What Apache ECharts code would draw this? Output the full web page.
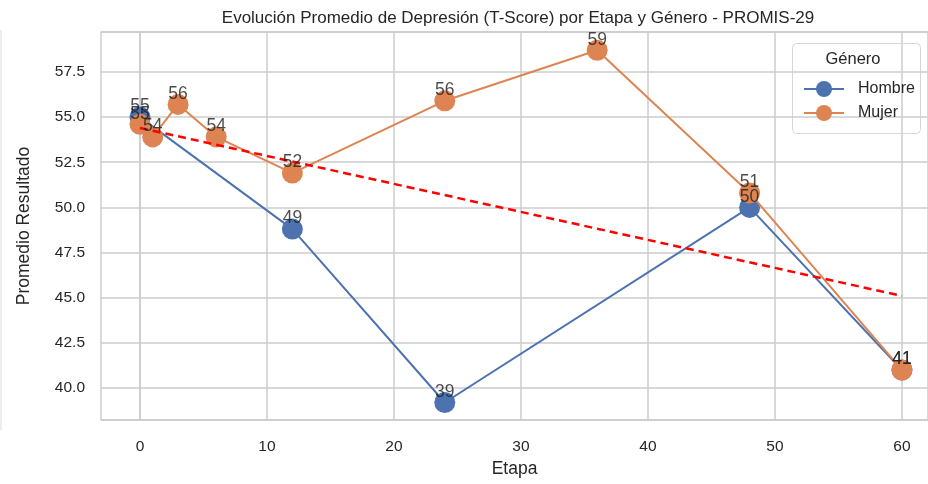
<!DOCTYPE html>
<html>
<head>
<meta charset="utf-8">
<script src="https://cdn.jsdelivr.net/npm/echarts@6/dist/echarts.min.js"></script>
<style>html,body{margin:0;padding:0;background:#fff}#c{width:928px;height:484px}</style>
</head>
<body>
<div id="c"></div>
<script>
const hombreEtapa = [0, 12, 24, 48, 60];
const hombreValor = [55.0, 48.8, 39.2, 50.0, 41.0];
const mujerEtapa = [0, 1, 3, 6, 12, 24, 36, 48, 60];
const mujerValor = [54.6, 53.9, 55.7, 53.9, 51.9, 55.9, 58.7, 50.8, 41.0];
const trendEtapa = [0, 60];
const trendValor = [54.4, 45.1];

const FONT = "'Liberation Sans', Arial, sans-serif";
const TXT = '#262626';
const pair = (xs, ys) => xs.map((x, i) => [x, ys[i]]);

const chart = echarts.init(document.getElementById('c'));
const labelSeries = (name, xs, ys) => ({
  type: 'scatter', name: name + '_lbl', data: pair(xs, ys), symbolSize: 1,
  itemStyle: { color: 'rgba(0,0,0,0)' }, z: 20, silent: true,
  label: { show: true, position: 'top', distance: 1, formatter: p => String(Math.round(p.value[1])),
    color: '#1e1e1e', fontSize: 17.5, fontFamily: FONT }
});
const gridLine = { lineStyle: { color: '#cccccc', width: 1.5 } };
chart.setOption({
  animation: false,
  textStyle: { fontFamily: FONT },
  title: { text: 'Evolución Promedio de Depresión (T-Score) por Etapa y Género - PROMIS-29',
    left: 513, textAlign: 'center', top: 5, textStyle: { fontSize: 17, fontWeight: 'normal', color: TXT, fontFamily: FONT } },
  grid: { left: 101, right: 0, top: 32, bottom: 64 },
  xAxis: [{ type: 'value', min: -3.07, max: 62.05, minInterval: 10, maxInterval: 10,
    name: 'Etapa', nameLocation: 'middle', nameGap: 40, nameTextStyle: { fontSize: 17.5, color: TXT },
    axisLine: { show: true, lineStyle: { color: '#cccccc', width: 1.5 } }, axisTick: { show: false },
    axisLabel: { showMinLabel: false, showMaxLabel: false, fontSize: 15.5, color: TXT, margin: 19,
      formatter: v => (Math.abs(v % 10) < 1e-6 ? String(Math.round(v)) : '') },
    splitLine: gridLine },
    { type: 'value', position: 'top', min: -3.07, max: 62.05,
      axisLine: { show: true, lineStyle: { color: '#cccccc', width: 1.5 } }, axisTick: { show: false },
      axisLabel: { show: false }, splitLine: { show: false } }],
  yAxis: { type: 'value', min: 38.23, max: 59.71, minInterval: 2.5, maxInterval: 2.5,
    name: 'Promedio Resultado', nameLocation: 'middle', nameGap: 68, nameTextStyle: { fontSize: 17.5, color: TXT },
    axisLine: { show: true, lineStyle: { color: '#cccccc', width: 1.5 } }, axisTick: { show: false },
    axisLabel: { showMinLabel: false, showMaxLabel: false, fontSize: 15.5, color: TXT, margin: 16,
      formatter: v => (Math.abs(v / 2.5 - Math.round(v / 2.5)) < 1e-6 ? v.toFixed(1) : '') },
    splitLine: gridLine },
  legend: { data: ['Hombre', 'Mujer'], orient: 'vertical', left: 798, top: 76, itemWidth: 40, itemHeight: 20, itemGap: 8,
    textStyle: { fontSize: 16, color: TXT, padding: [0, 0, 0, 9] } },
  graphic: [
    { type: 'rect', left: 792, top: 43, z: -1, shape: { width: 128, height: 90, r: 4 },
      style: { fill: 'rgba(255,255,255,0.85)', stroke: '#d6d6d6', lineWidth: 1 } },
    { type: 'text', x: 853, y: 51, z: 10, style: { text: 'Género', textAlign: 'center', fontSize: 16.5, fill: TXT, fontFamily: FONT } },
    { type: 'line', shape: { x1: 1, y1: 30, x2: 1, y2: 430 }, style: { stroke: '#dddddd', lineWidth: 1 } }
  ],
  series: [
    { type: 'line', name: 'Hombre', data: pair(hombreEtapa, hombreValor), symbol: 'circle', symbolSize: 21,
      color: '#4c72b0', lineStyle: { width: 2 }, itemStyle: { color: '#4c72b0' }, z: 2 },
    { type: 'line', name: 'Mujer', data: pair(mujerEtapa, mujerValor), symbol: 'circle', symbolSize: 21,
      color: '#dd8452', lineStyle: { width: 2 }, itemStyle: { color: '#dd8452' }, z: 3 },
    { type: 'line', name: 'Tendencia', data: pair(trendEtapa, trendValor), symbol: 'none',
      lineStyle: { color: '#ff0000', width: 2.5, type: [8, 5] }, z: 4 },
    labelSeries('Hombre', hombreEtapa, hombreValor),
    labelSeries('Mujer', mujerEtapa, mujerValor)
  ]
});
</script>
</body>
</html>
